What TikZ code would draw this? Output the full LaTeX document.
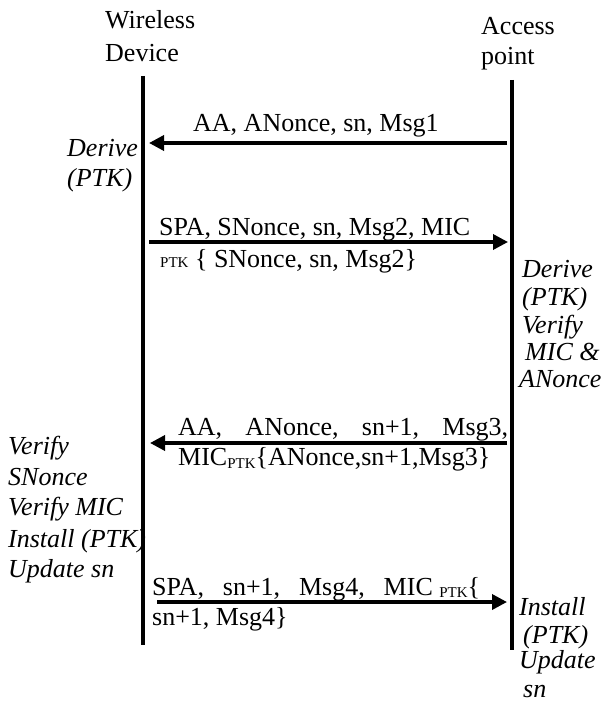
\documentclass[tikz,border=0pt]{standalone}
\usepackage{fontspec}
\setmainfont{Liberation Serif}
\usetikzlibrary{arrows.meta}
\newcommand{\ptksub}{{\fontsize{15}{15}\selectfont PTK}}
\begin{document}
\begin{tikzpicture}[x=1pt,y=-1pt,
  txt/.style={inner sep=0pt, anchor=base west, font=\fontsize{26}{30}\selectfont},
  itxt/.style={txt, font=\fontsize{26}{30}\selectfont\itshape},
  lifeline/.style={line width=4.5pt},
  msg/.style={line width=3.5pt, -{Triangle[length=15pt,width=15pt]}}]
\useasboundingbox (0,0) rectangle (607,711);
% headers
\node[txt] (wl1) at (105,29) {Wireless};
\node[txt] (wl2) at (105,62) {Device};
\node[txt] (ap1) at (481,35) {Access};
\node[txt] (ap2) at (481,65) {point};
% lifelines
\coordinate (Ltop) at (143,76);
\coordinate (Lbot) at (143,645);
\coordinate (Rtop) at (512,80);
\coordinate (Rbot) at (512,650);
\draw[lifeline] (Ltop) -- (Lbot);
\draw[lifeline] (Rtop) -- (Rbot);
% message end points
\coordinate (m1s) at (507,143); \coordinate (m1e) at (149,143);
\coordinate (m2s) at (149,242); \coordinate (m2e) at (508,242);
\coordinate (m3s) at (507,443); \coordinate (m3e) at (150,443);
\coordinate (m4s) at (157,602); \coordinate (m4e) at (507,602);
\draw[msg] (m1s) -- (m1e);
\draw[msg] (m2s) -- (m2e);
\draw[msg] (m3s) -- (m3e);
\draw[msg] (m4s) -- (m4e);
% message labels
\node[txt] (l1) at (193,132) {AA, ANonce, sn, Msg1};
\node[txt] (l2a) at (159,235) {SPA, SNonce, sn, Msg2, MIC};
\node[txt] (l2b) at (160,267) {\ptksub\ \{ SNonce, sn, Msg2\}};
\node[txt] (l3a) at (178,435) {\hbox to 330pt{AA,\hfill ANonce,\hfill sn+1,\hfill Msg3,}};
\node[txt] (l3b) at (178,465) {MIC\raisebox{-3pt}{\ptksub}\{ANonce,sn+1,Msg3\}};
\node[txt] (l4a) at (152,595) {\hbox to 328pt{SPA,\hfill sn+1,\hfill Msg4,\hfill MIC \raisebox{-2pt}{\ptksub}\{}};
\node[txt] (l4b) at (152,625) {sn+1, Msg4\}};
% left actions
\node[itxt] (d1) at (67,157) {Derive};
\node[itxt] (d2) at (67,187) {(PTK)};
\node[itxt] (v1) at (8,454) {Verify};
\node[itxt] (v2) at (8,485) {SNonce};
\node[itxt] (v3) at (8,515) {Verify MIC};
\node[itxt] (v4) at (8,547) {Install (PTK)};
\node[itxt] (v5) at (8,577) {Update sn};
% right actions
\node[itxt] (r1) at (522,277) {Derive};
\node[itxt] (r2) at (522,305) {(PTK)};
\node[itxt] (r3) at (522,333) {Verify};
\node[itxt] (r4) at (525,360) {MIC \&};
\node[itxt] (r5) at (519,387) {ANonce};
\node[itxt] (s1) at (519,615) {Install};
\node[itxt] (s2) at (523,643) {(PTK)};
\node[itxt] (s3) at (519,668) {Update};
\node[itxt] (s4) at (523,697) {sn};
\end{tikzpicture}
\end{document}
